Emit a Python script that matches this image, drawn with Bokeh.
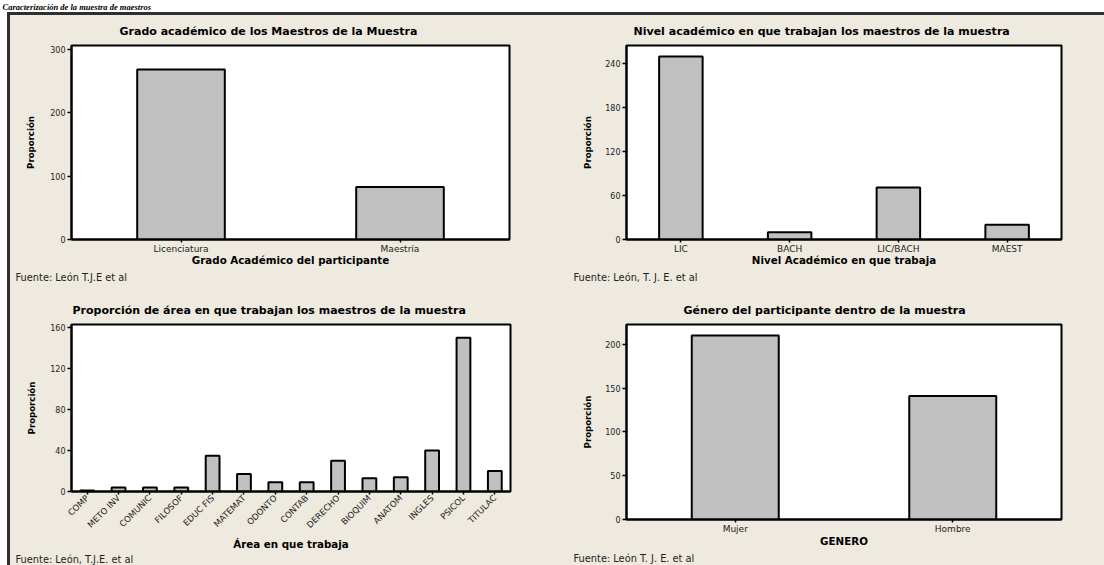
import math
from bokeh.plotting import figure
from bokeh.models import FactorRange, Range1d, FixedTicker, Spacer, Title
from bokeh.core.properties import value
from bokeh.layouts import row, column
from bokeh.embed import file_html
from bokeh.resources import INLINE

# ---------------- data ----------------
caption = "Caracterización de la muestra de maestros"

grado_cats = ["Licenciatura", "Maestría"]
grado_vals = [268, 83]

nivel_cats = ["LIC", "BACH", "LIC/BACH", "MAEST"]
nivel_vals = [250, 10, 71, 20]

area_cats = ["COMP", "METO INV", "COMUNIC", "FILOSOF", "EDUC FIS", "MATEMAT", "ODONTO",
             "CONTAB", "DERECHO", "BIOQUIM", "ANATOM", "INGLES", "PSICOL", "TITULAC"]
area_vals = [1, 4, 4, 4, 35, 17, 9, 9, 30, 13, 14, 40, 150, 20]

genero_cats = ["Mujer", "Hombre"]
genero_vals = [210, 141]

grado_ticks = [0, 100, 200, 300]
nivel_ticks = [0, 60, 120, 180, 240]
area_ticks = [0, 40, 80, 120, 160]
genero_ticks = [0, 50, 100, 150, 200]

BG = "#EEEADF"
DARK = "#2f2f2f"
FONT = "DejaVu Sans"


def make_chart(cats, vals, title, xlabel, footer, width, height, mb, y_end, ticks,
               bar_w, title_off, ylab_standoff, footer_off, xlab_standoff, footer_standoff,
               rot=False):
    p = figure(width=width, height=height,
               x_range=FactorRange(factors=cats, range_padding=0),
               y_range=Range1d(0, y_end),
               output_backend="svg", toolbar_location=None,
               min_border_left=mb[0], min_border_right=mb[1],
               min_border_top=mb[2], min_border_bottom=mb[3])
    p.frame_align = False
    p.vbar(x=cats, top=vals, width=bar_w, bottom=0,
           fill_color="#C0C0C0", line_color="black", line_width=2)

    p.background_fill_color = "white"
    p.border_fill_color = BG
    p.outline_line_color = "black"
    p.outline_line_width = 2
    p.xgrid.visible = False
    p.ygrid.visible = False

    p.title.text = title
    p.title.align = "left"
    p.title.offset = title_off
    p.title.text_font = FONT
    p.title.text_font_size = "11px"
    p.title.text_font_style = "bold"
    p.title.text_color = "black"
    p.title.standoff = 15

    for ax in (p.xaxis[0], p.yaxis[0]):
        ax.axis_line_color = "black"
        ax.axis_line_width = 2
        ax.major_tick_line_color = "black"
        ax.major_tick_line_width = 1.5
        ax.minor_tick_line_color = None
        ax.major_tick_in = 0
        ax.major_label_text_font = FONT
        ax.major_label_text_color = "#222222"
        ax.axis_label_text_font = FONT
        ax.axis_label_text_font_style = "bold"
        ax.axis_label_text_color = "black"

    xa = p.xaxis[0]
    xa.axis_label = xlabel
    xa.major_tick_out = 3
    xa.major_label_standoff = 2 if rot else 1
    xa.major_label_text_font_size = "8.5px" if rot else "9px"
    xa.axis_label_text_font_size = "10.3px"
    xa.axis_label_standoff = xlab_standoff
    if rot:
        xa.major_label_orientation = math.pi / 4

    ya = p.yaxis[0]
    ya.axis_label = "Proporción"
    ya.ticker = FixedTicker(ticks=ticks)
    ya.major_tick_out = 4
    ya.major_label_standoff = 2
    ya.major_label_text_font_size = "8px"
    ya.axis_label_text_font_size = "8.6px"
    ya.axis_label_standoff = ylab_standoff

    p.add_layout(Title(text=footer, align="left", offset=footer_off,
                       text_font=FONT, text_font_size="9.8px", text_font_style="normal",
                       text_color="#222222", standoff=footer_standoff), "below")
    return p


p1 = make_chart(grado_cats, grado_vals, "Grado académico de los Maestros de la Muestra",
                "Grado Académico del participante", "Fuente: León T.J.E et al",
                540, 275, (61, 41, 29, 51), 306, grado_ticks, 0.40, 48, 11, -56, -3, 3)
p2 = make_chart(nivel_cats, nivel_vals, "Nivel académico en que trabajan los maestros de la muestra",
                "Nivel Académico en que trabaja", "Fuente: León, T. J. E. et al",
                554, 275, (76, 43, 28, 51), 265, nivel_ticks, 0.40, 7, 9, -53, -3, 3)
p3 = make_chart(area_cats, area_vals, "Proporción de área en que trabajan los maestros de la muestra",
                "Área en que trabaja", "Fuente: León, T.J.E. et al",
                540, 275, (61, 40, 34, 74), 163, area_ticks, 0.44, 1, 10, -56, 2, -4, rot=True)
p4 = make_chart(genero_cats, genero_vals, "Género del participante dentro de la muestra",
                "GENERO", "Fuente: León T. J. E. et al",
                554, 275, (76, 43, 34, 45), 222.5, genero_ticks, 0.40, 57, 9, -53, -2, 3)

# heading strip above the framed panel
cap = figure(width=1104, height=12, x_range=Range1d(0, 1104), y_range=Range1d(0, 12),
             output_backend="svg", toolbar_location=None, title=None,
             min_border=0, min_border_left=0, min_border_right=0,
             min_border_top=0, min_border_bottom=0)
cap.axis.visible = False
cap.grid.visible = False
cap.outline_line_color = None
cap.background_fill_color = "white"
cap.border_fill_color = "white"
cap.text(x=[2], y=[6], text=[caption], text_font=value("Liberation Serif"),
         text_font_size="8.5px", text_font_style="bold italic", text_color="black",
         text_baseline="middle", text_align="left")

left_gap = Spacer(width=7, height=553)
left_strip = Spacer(width=3, height=553, styles={"background-color": DARK})
top_strip = Spacer(width=1094, height=3, styles={"background-color": DARK})
grid = column(row(p1, p2, styles={"background-color": BG}),
              row(p3, p4, styles={"background-color": BG}),
              styles={"background-color": BG})
inner = column(top_strip, grid)
layout = column(cap, row(left_gap, left_strip, inner))

open("out.html", "w").write(file_html(layout, INLINE))
